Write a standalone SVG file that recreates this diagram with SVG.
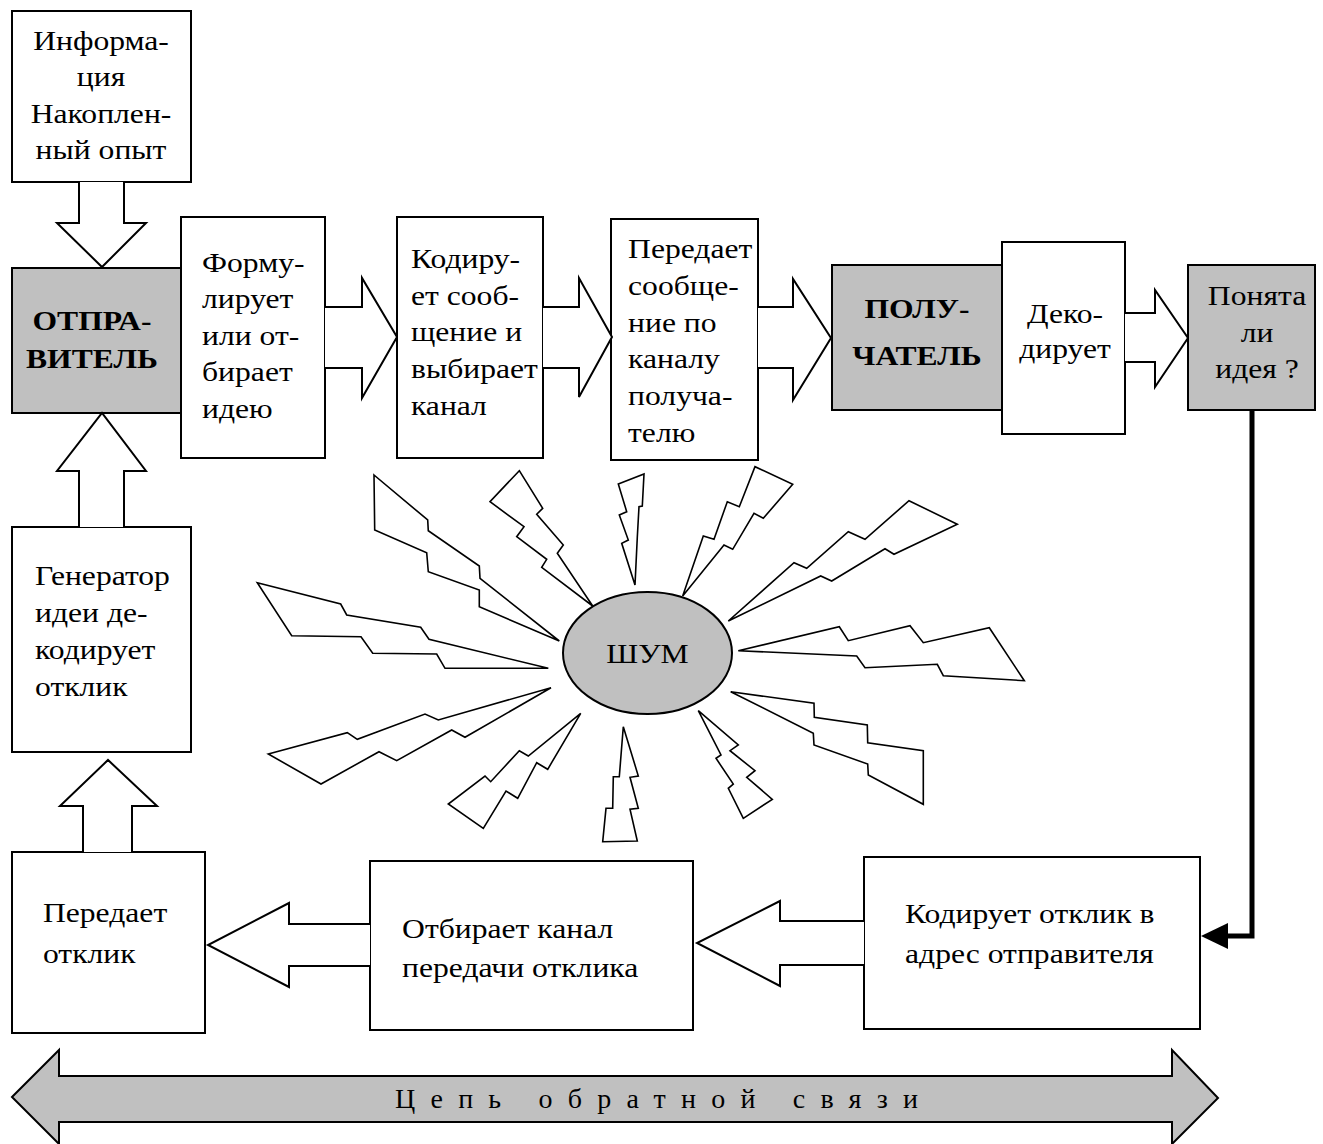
<svg xmlns="http://www.w3.org/2000/svg" width="1323" height="1144" viewBox="0 0 1323 1144">
<style>
.box{fill:#fff;stroke:#000;stroke-width:2}
.gray{fill:#c0c0c0;stroke:#000;stroke-width:2}
.blk{fill:#fff;stroke:#000;stroke-width:2;stroke-linejoin:miter}
.bolt{fill:#fff;stroke:#000;stroke-width:1.6;stroke-linejoin:miter}
text{font-family:"Liberation Serif","DejaVu Serif",serif;font-size:28px;fill:#000}
.b{font-weight:bold}
.c{text-anchor:middle}
</style>
<rect width="1323" height="1144" fill="#fff"/>
<g id="info"><rect class="box" x="12" y="11" width="179" height="171"/>
<g transform="scale(1.13,1)"><text class="c" x="89.4" y="50">Информа-</text><text class="c" x="89.4" y="86">ция</text><text class="c" x="89.4" y="123">Накоплен-</text><text class="c" x="89.4" y="159">ный опыт</text></g></g>
<g id="sender"><rect class="gray" x="12" y="268" width="169" height="145"/>
<g transform="scale(1.13,1)"><text class="c b" x="81.4" y="330">ОТПРА-</text><text class="c b" x="81.4" y="368">ВИТЕЛЬ</text></g></g>
<g id="formulate"><rect class="box" x="181" y="217" width="144" height="241"/>
<g transform="scale(1.13,1)"><text x="178.8" y="272">Форму-</text><text x="178.8" y="308.5">лирует</text><text x="178.8" y="345">или от-</text><text x="178.8" y="381.5">бирает</text><text x="178.8" y="418">идею</text></g></g>
<g id="encode"><rect class="box" x="397" y="217" width="146" height="241"/>
<g transform="scale(1.13,1)"><text x="363.7" y="268">Кодиру-</text><text x="363.7" y="305">ет сооб-</text><text x="363.7" y="341">щение и</text><text x="363.7" y="378">выбирает</text><text x="363.7" y="415">канал</text></g></g>
<g id="transmit"><rect class="box" x="611" y="219" width="147" height="241"/>
<g transform="scale(1.13,1)"><text x="555.8" y="258">Передает</text><text x="555.8" y="295">сообще-</text><text x="555.8" y="332">ние по</text><text x="555.8" y="368.5">каналу</text><text x="555.8" y="405">получа-</text><text x="555.8" y="442">телю</text></g></g>
<g id="receiver"><rect class="gray" x="832" y="265" width="170" height="145"/>
<g transform="scale(1.13,1)"><text class="c b" x="811.5" y="318">ПОЛУ-</text><text class="c b" x="811.5" y="365">ЧАТЕЛЬ</text></g></g>
<g id="decode"><rect class="box" x="1002" y="242" width="123" height="192"/>
<g transform="scale(1.13,1)"><text class="c" x="942.5" y="323">Деко-</text><text class="c" x="942.5" y="358">дирует</text></g></g>
<g id="understood"><rect class="gray" x="1188" y="265" width="127" height="145"/>
<g transform="scale(1.13,1)"><text class="c" x="1112.4" y="305">Понята</text><text class="c" x="1112.4" y="342">ли</text><text class="c" x="1112.4" y="378">идея ?</text></g></g>
<g id="generator"><rect class="box" x="12" y="527" width="179" height="225"/>
<g transform="scale(1.13,1)"><text x="31" y="585">Генератор</text><text x="31" y="622">идеи де-</text><text x="31" y="659">кодирует</text><text x="31" y="696">отклик</text></g></g>
<g id="sendback"><rect class="box" x="12" y="852" width="193" height="181"/>
<g transform="scale(1.13,1)"><text x="38" y="922">Передает</text><text x="38" y="963">отклик</text></g></g>
<g id="selectchannel"><rect class="box" x="370" y="861" width="323" height="169"/>
<g transform="scale(1.13,1)"><text x="355.8" y="938">Отбирает канал</text><text x="355.8" y="977">передачи отклика</text></g></g>
<g id="encodeback"><rect class="box" x="864" y="857" width="336" height="172"/>
<g transform="scale(1.13,1)"><text x="800.9" y="923">Кодирует отклик в</text><text x="800.9" y="963">адрес отправителя</text></g></g>
<g id="noise">
<polygon class="bolt" points="374,475 427.7,520 428.3,530.7 479.3,566 480,578.3 559.3,641 479.3,606.7 479.3,590 428.3,571.7 426.7,552.7 374.7,530"/>
<polygon class="bolt" points="519.3,470.7 542.7,508.3 536.7,514.3 563.3,545 557.3,553.3 592.7,606 541.7,567.3 546.7,559.3 516.7,536.7 524,526.7 490,501.7"/>
<polygon class="bolt" points="618.3,484 644,474 642.3,506 639,506.7 637.3,537.3 635,585 621.7,543.3 628.3,540 619.3,515 626.7,511.7"/>
<polygon class="bolt" points="257.3,582.7 340.7,604 346.7,615 420.7,627.3 429,639.3 548.3,668.3 445,668.3 436.7,654 372.7,653.3 361,636.7 291.7,635.7"/>
<polygon class="bolt" points="551,687.7 438.3,720 425,714 357.3,739.3 347.3,732.7 268.3,754 321,784 379,751.7 396.7,760.7 451.7,730 465,737.3"/>
<polygon class="bolt" points="580.7,713.3 528.3,756 519.3,750.7 490.7,781.7 485,776 448.3,804 483.3,828.3 506,791 517.7,798.3 536.7,762.7 547.7,769.3"/>
<polygon class="bolt" points="623.3,726.7 638.3,776 630,777.3 638.3,808.3 630,809.3 637.3,841 602.7,841.7 606,808.3 612.7,808.3 613.3,776.7 619.3,776.7"/>
<polygon class="bolt" points="682.7,596 703.3,536 714,539.3 727.3,501.7 739.3,506.7 755,466.7 792.7,484.3 763.3,518.3 754,513.3 732.7,549.3 724,545"/>
<polygon class="bolt" points="728.3,621 794,562.7 806.7,568.3 848.3,531.7 865,539.3 909,500.7 957.3,524.3 894,554.3 885,548.7 831.7,581 820.7,576"/>
<polygon class="bolt" points="738.3,650.7 839.3,626.7 848.3,640.7 910,625.7 923.3,642.7 989.3,627.7 1024.3,680.7 943.3,675.7 937.3,664.3 865,667.7 856.7,656"/>
<polygon class="bolt" points="730.7,691.7 814,703.3 814.3,717.3 867.3,725 867.7,742.7 923.3,750.7 923.3,804.3 868.3,775 867.7,764 814,745 813.3,733.3"/>
<polygon class="bolt" points="698.3,710.7 738.3,745 730,750.7 755,770.7 746.7,777.3 772.3,799.3 743.3,818.3 728.3,788.3 733.3,784 716,758.3 721,755"/>
<ellipse class="gray" cx="647.5" cy="653" rx="84.5" ry="61"/>
<g transform="scale(1.13,1)"><text class="c" x="573" y="663">ШУМ</text></g>
</g>
<g id="connectors">
<path class="blk" d="M79,182 V223 H57 L102,267 L146,223 H124 V182"/>
<path class="blk" d="M325,307 H362 V278 L397,337 L362,398 V368 H325"/>
<path class="blk" d="M543,307 H579 V278 L612,337 L579,397 V368 H543"/>
<path class="blk" d="M758,307 H793 V279 L831,338 L793,400 V368 H758"/>
<path class="blk" d="M1125,313 H1155 V290 L1188,338 L1155,387 V362 H1125"/>
<path class="blk" d="M79,527 V471 H57 L102,413 L146,471 H124 V527"/>
<path class="blk" d="M83,852 V806 H60 L108,760 L157,806 H132 V852"/>
<path class="blk" d="M370,924 H289 V903 L208,945 L289,987 V966 H370"/>
<path class="blk" d="M864,921 H780 V901 L697,943 L780,986 V965 H864"/>
<polyline points="1252,410 1252,936 1225,936" fill="none" stroke="#000" stroke-width="5"/>
<polygon points="1228,923 1201,936 1228,949" fill="#000"/>
</g>
<g id="feedback">
<polygon class="gray" points="12,1097 59,1050 59,1076 1172,1076 1172,1050 1218,1098 1172,1144 1172,1122 59,1122 59,1144"/>
<text x="395" y="1108" font-size="27" textLength="523" lengthAdjust="spacing">Цепь обратной связи</text>
</g>
</svg>
